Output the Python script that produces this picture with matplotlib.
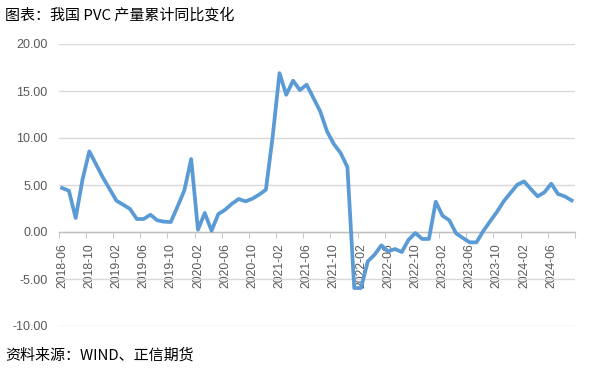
import numpy as np
import matplotlib
matplotlib.use("Agg")
import matplotlib.pyplot as plt
from matplotlib.ticker import FixedLocator, FuncFormatter

plt.rcParams['font.family'] = ['Liberation Sans', 'Noto Sans CJK SC', 'DejaVu Sans']

# monthly data, 2018-06 .. 2024-09
start_year, start_month = 2018, 6
values = [
    4.68, 4.39, 1.49, 5.56, 8.58, 7.20, 5.80, 4.57, 3.33, 2.90,
    2.45, 1.38, 1.38, 1.84, 1.24, 1.10, 1.06, 2.72, 4.43, 7.76,
    0.24, 2.02, 0.14, 1.91, 2.37, 3.01, 3.51, 3.26, 3.54, 3.97,
    4.50, 10.17, 16.90, 14.60, 16.10, 15.10, 15.67, 14.25, 12.83, 10.70,
    9.36, 8.40, 6.90, -5.96, -5.96, -3.12, -2.41, -1.42, -2.06, -1.81,
    -2.13, -0.82, -0.11, -0.74, -0.74, 3.22, 1.73, 1.24, -0.15, -0.64,
    -1.10, -1.10, 0.10, 1.13, 2.13, 3.26, 4.15, 5.03, 5.38, 4.57,
    3.79, 4.22, 5.14, 4.04, 3.79, 3.36,
]
labels = []
for k in range(len(values)):
    m = start_month - 1 + k
    labels.append(f"{start_year + m // 12}-{m % 12 + 1:02d}")

title = "图表：我国 PVC 产量累计同比变化"
source = "资料来源：WIND、正信期货"

W, H = 603, 371
fig = plt.figure(figsize=(W / 100, H / 100), dpi=100)
ax = fig.add_axes([58.7 / W, 45 / H, (575 - 58.7) / W, (326 - 44) / H])

x = np.arange(len(values))
ax.plot(x, values, color='#5B9BD5', linewidth=2.7, solid_joinstyle='round', zorder=3)

ax.set_xlim(-0.5, len(values) - 0.5)
ax.set_ylim(-10, 20)
ax.set_yticks(np.arange(-10, 21, 5))
ax.yaxis.set_major_formatter(FuncFormatter(lambda v, p: f"{v:.2f}"))
ax.grid(axis='y', color='#D9D9D9', linewidth=1)
ax.set_axisbelow(True)

for s in ['top', 'right', 'left']:
    ax.spines[s].set_visible(False)
ax.spines['bottom'].set_position(('data', 0))
ax.spines['bottom'].set_color('#BFBFBF')
ax.spines['bottom'].set_linewidth(1)

lab_pos = list(range(0, len(values), 4))
ax.xaxis.set_major_locator(FixedLocator(lab_pos))
ax.set_xticklabels([labels[i] for i in lab_pos], rotation=90)
ax.xaxis.set_minor_locator(FixedLocator(np.arange(-0.5, len(values), 4)))
ax.tick_params(axis='x', which='major', length=0, pad=8, labelsize=8.7, colors='#595959')
ax.tick_params(axis='x', which='minor', length=4, color='#BFBFBF', direction='out')
ax.tick_params(axis='y', length=0, pad=8, labelsize=9, colors='#595959')

fig.text(5 / W, 1 - 15 / H, title, fontsize=10.8, family=['Noto Sans CJK SC', 'DejaVu Sans'],
         va='center', ha='left', color='#000000')
fig.text(5 / W, 1 - 355 / H, source, fontsize=10.8, family=['Noto Sans CJK SC', 'DejaVu Sans'],
         va='center', ha='left', color='#000000')

fig.savefig('out.png', dpi=100)
